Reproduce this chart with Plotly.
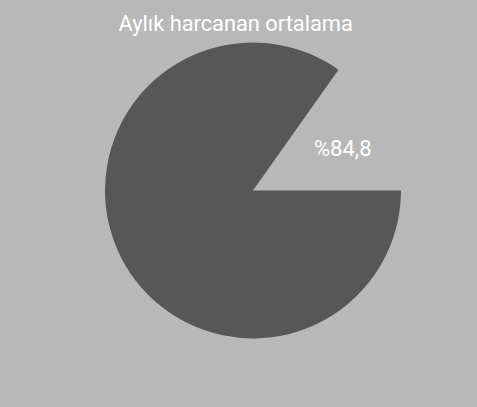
import plotly.graph_objects as go

labels = ["Harcanan", "Kalan"]
values = [84.8, 15.2]
value_label = "%84,8"
title_text = "Aylık harcanan ortalama"

fig = go.Figure(go.Pie(
    labels=labels,
    values=values,
    textinfo="none",
    marker=dict(colors=["#575757", "rgba(0,0,0,0)"], line=dict(width=0)),
    sort=False,
    direction="clockwise",
    rotation=90,
    hole=0,
    showlegend=False,
    domain=dict(x=[0.1804, 0.8804], y=[0.1685, 0.8957]),
))

fig.add_annotation(
    text=value_label, xref="paper", yref="paper",
    x=0.72, y=0.634, xanchor="center", yanchor="middle", showarrow=False,
    font=dict(family="Roboto", size=22, color="white"),
)

fig.update_layout(
    width=477, height=407,
    margin=dict(l=0, r=0, t=0, b=0),
    paper_bgcolor="#b8b8b8",
    plot_bgcolor="#b8b8b8",
    title=dict(text=title_text, x=0.494, xanchor="center", y=0.943, yanchor="middle",
               font=dict(family="Roboto", size=21.8, color="white")),
)

fig.write_html("out.html")
